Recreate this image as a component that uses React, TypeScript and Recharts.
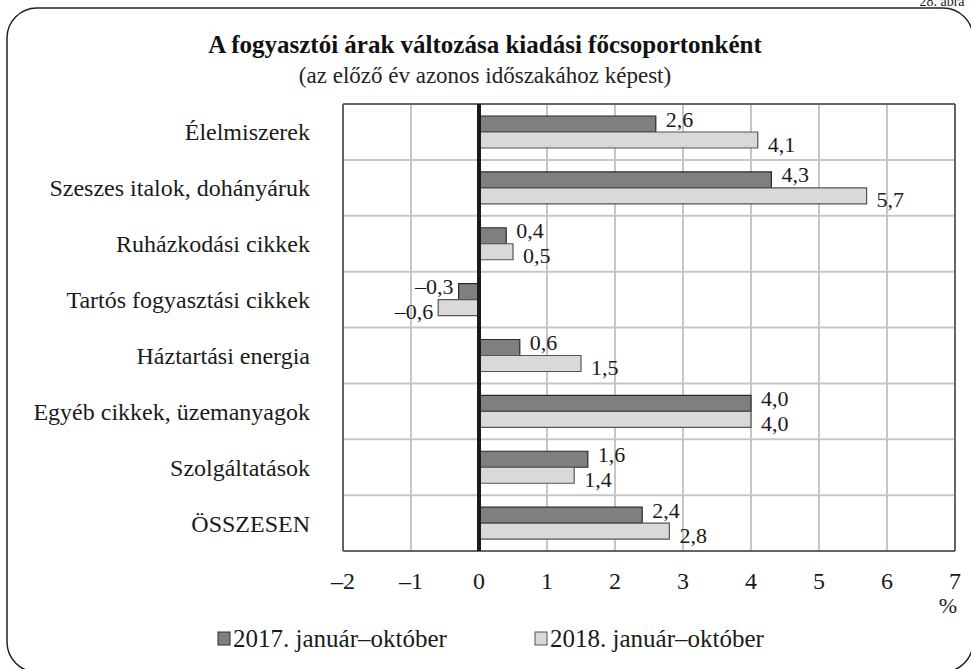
import React from "react";
import {
  BarChart,
  Bar,
  XAxis,
  YAxis,
  CartesianGrid,
  ReferenceLine,
  LabelList,
} from "recharts";

const categories = [
  "Élelmiszerek",
  "Szeszes italok, dohányáruk",
  "Ruházkodási cikkek",
  "Tartós fogyasztási cikkek",
  "Háztartási energia",
  "Egyéb cikkek, üzemanyagok",
  "Szolgáltatások",
  "ÖSSZESEN",
];
const values2017 = [2.6, 4.3, 0.4, -0.3, 0.6, 4.0, 1.6, 2.4];
const values2018 = [4.1, 5.7, 0.5, -0.6, 1.5, 4.0, 1.4, 2.8];
const seriesNames = ["2017. január–október", "2018. január–október"];
const xTicks = [-2, -1, 0, 1, 2, 3, 4, 5, 6, 7];
const title = "A fogyasztói árak változása kiadási főcsoportonként";
const subtitle = "(az előző év azonos időszakához képest)";
const figureLabel = "28. ábra";

const data = categories.map((name, i) => ({
  name,
  y2017: values2017[i],
  y2018: values2018[i],
}));

const FONT = '"Liberation Serif", "Times New Roman", Times, "DejaVu Serif", serif';
const DARK = "#7f7f7f";
const LIGHT = "#d9d9d9";

const fmt = (v: number) => {
  const s = Math.abs(v).toFixed(1).replace(".", ",");
  return v < 0 ? "–" + s : s;
};
const fmtTick = (v: number) => (v < 0 ? "–" + Math.abs(v) : String(v));

const makeLabel = (dy: number) => (props: any) => {
  const { x, y, width, height, value } = props;
  const v = Number(value);
  const left = Math.min(x, x + width);
  const right = Math.max(x, x + width);
  const neg = v < 0;
  return (
    <text
      x={neg ? left - 5 : right + 10}
      y={y + height / 2 + dy}
      textAnchor={neg ? "end" : "start"}
      dominantBaseline="central"
      style={{ fontFamily: FONT }}
      fontSize={22}
      fill="#1a1a1a"
    >
      {fmt(v)}
    </text>
  );
};

// category band boundaries derived from the plot area computed by the library
const bandBoundaries = (props: any) => {
  const { offset } = props;
  const out: number[] = [];
  const step = offset.height / categories.length;
  for (let i = 0; i <= categories.length; i++) out.push(offset.top + i * step);
  return out;
};
const bandEnds = (props: any) => {
  const all = bandBoundaries(props);
  return [all[0], all[all.length - 1]];
};
const xEnds = (props: any) => {
  const { offset } = props;
  return [offset.left, offset.left + offset.width];
};

export default function App() {
  return (
    <div
      style={{
        position: "fixed",
        left: 0,
        top: 0,
        width: 971,
        height: 669,
        background: "#fff",
        overflow: "hidden",
        fontFamily: FONT,
      }}
    >
      <BarChart
        width={971}
        height={669}
        data={data}
        layout="vertical"
        margin={{ top: 104, right: 16, bottom: 78, left: 0 }}
        barGap={0}
        barSize={16}
        style={{ fontFamily: FONT }}
      >
        <CartesianGrid
          stroke="#c6c6c6"
          strokeWidth={2}
          horizontal={true}
          vertical={true}
          horizontalCoordinatesGenerator={bandBoundaries}
        />
        <CartesianGrid
          stroke="#444"
          strokeWidth={1.5}
          horizontal={true}
          vertical={true}
          horizontalCoordinatesGenerator={bandEnds}
          verticalCoordinatesGenerator={xEnds}
        />
        <XAxis
          type="number"
          domain={[-2, 7]}
          ticks={xTicks}
          tickFormatter={fmtTick}
          axisLine={false}
          tickLine={false}
          tickSize={6}
          tickMargin={15}
          height={40}
          interval={0}
          tick={{ fontFamily: FONT, fontSize: 24, fill: "#1a1a1a" }}
        />
        <YAxis
          type="category"
          dataKey="name"
          width={343}
          axisLine={false}
          tickLine={false}
          tickSize={6}
          tickMargin={27}
          interval={0}
          tick={{ fontFamily: FONT, fontSize: 24, fill: "#1a1a1a" }}
        />
        <Bar
          dataKey="y2017"
          name={seriesNames[0]}
          fill={DARK}
          stroke="#2a2a2a"
          strokeWidth={1.2}
          isAnimationActive={false}
        >
          <LabelList dataKey="y2017" content={makeLabel(-5)} />
        </Bar>
        <Bar
          dataKey="y2018"
          name={seriesNames[1]}
          fill={LIGHT}
          stroke="#555"
          strokeWidth={1.2}
          isAnimationActive={false}
        >
          <LabelList dataKey="y2018" content={makeLabel(4)} />
        </Bar>
        <ReferenceLine x={0} stroke="#1a1a1a" strokeWidth={4} ifOverflow="visible" />
      </BarChart>
      <svg
        width={971}
        height={669}
        style={{ position: "absolute", left: 0, top: 0, pointerEvents: "none", fontFamily: FONT }}
      >
        <rect
          x={7}
          y={8}
          width={966}
          height={664}
          rx={30}
          ry={30}
          fill="none"
          stroke="#222"
          strokeWidth={1.5}
        />
        <text x={942} y={6} fontSize={14} fill="#222" textAnchor="middle">
          {figureLabel}
        </text>
        <text x={485} y={53} textAnchor="middle" fontSize={25} fontWeight="bold" fill="#111">
          {title}
        </text>
        <text x={485} y={83} textAnchor="middle" fontSize={23} fill="#222">
          {subtitle}
        </text>
        <text x={957} y={613} textAnchor="end" fontSize={22} fill="#222">
          %
        </text>
        <rect x={218} y={632} width={12} height={13} fill={DARK} stroke="#2a2a2a" strokeWidth={1} />
        <text x={233} y={647} fontSize={25} fill="#1a1a1a">
          {seriesNames[0]}
        </text>
        <rect x={535} y={632} width={12} height={13} fill={LIGHT} stroke="#555" strokeWidth={1} />
        <text x={550} y={647} fontSize={25} fill="#1a1a1a">
          {seriesNames[1]}
        </text>
      </svg>
    </div>
  );
}
